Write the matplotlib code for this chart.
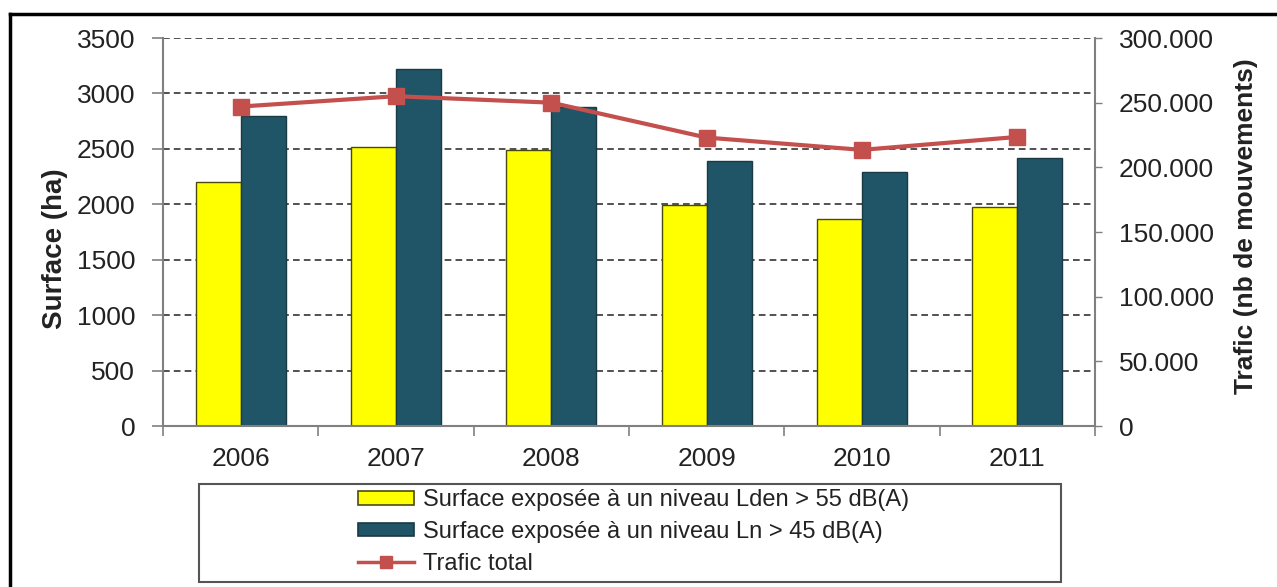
import matplotlib
matplotlib.use("Agg")
import matplotlib.pyplot as plt
import numpy as np
from matplotlib.lines import Line2D
from matplotlib.patches import Rectangle, Patch

plt.rcParams['font.family'] = ['Liberation Sans', 'DejaVu Sans']

years = ['2006', '2007', '2008', '2009', '2010', '2011']
surface_lden = [2200, 2520, 2490, 1990, 1870, 1980]
surface_ln = [2800, 3220, 2880, 2390, 2290, 2420]
trafic_total = [247000, 255000, 250000, 223000, 213500, 223500]

label_lden = "Surface exposée à un niveau Lden > 55 dB(A)"
label_ln = "Surface exposée à un niveau Ln > 45 dB(A)"
label_trafic = "Trafic total"

W, H = 1277, 587
fig = plt.figure(figsize=(W / 100, H / 100), dpi=100)
ax = fig.add_axes([163 / W, 1 - 426 / H, (1095 - 163) / W, (426 - 38) / H])
ax2 = ax.twinx()

x = np.arange(len(years))
bw = 0.29
yellow = "#FFFF00"
teal = "#1F5566"
red = "#C4504D"
gray = "#808080"
text_c = "#222222"

ax.set_axisbelow(True)
ax.bar(x - bw / 2, surface_lden, width=bw, color=yellow, edgecolor="#4a4a10", linewidth=1.0, zorder=2)
ax.bar(x + bw / 2, surface_ln, width=bw, color=teal, edgecolor="#1a3a44", linewidth=1.0, zorder=2)
ax2.plot(x, trafic_total, color=red, lw=3, marker="s", markersize=11, markeredgecolor=red, zorder=3)

ax.set_xlim(-0.5, len(years) - 0.5)
ax.set_ylim(0, 3500)
ax.set_yticks(np.arange(0, 3501, 500))
ax2.set_ylim(0, 300000)
ax2.set_yticks(np.arange(0, 300001, 50000))
ax2.set_yticklabels([f"{v // 1000}.000" if v else "0" for v in range(0, 300001, 50000)])

ax.set_xticks(np.arange(-0.5, len(years), 1.0))
ax.set_xticklabels([])
ax.set_xticks(x, minor=True)
ax.set_xticklabels(years, minor=True)
ax.tick_params(axis="x", which="major", length=7, color=gray, width=1.2, direction="out")
ax.tick_params(axis="x", which="minor", length=0, pad=15, labelsize=19, labelcolor=text_c)
ax.tick_params(axis="y", length=8, color=gray, width=1.2, labelsize=19, pad=12, labelcolor=text_c)
ax2.tick_params(axis="y", length=5, color=gray, width=1.0, labelsize=19, pad=12, labelcolor=text_c)

ax.yaxis.grid(True, linestyle=(0, (4, 2.5)), color="#333333", lw=1.2)

for a in (ax, ax2):
    a.spines["top"].set_visible(False)
    for s in ("left", "right", "bottom"):
        a.spines[s].set_color(gray)
        a.spines[s].set_linewidth(1.5)
ax.spines["right"].set_visible(False)
ax2.spines["left"].set_visible(False)
ax2.spines["bottom"].set_visible(False)

ax.set_ylabel("Surface (ha)", fontsize=20, fontweight="bold", color=text_c)
ax2.set_ylabel("Trafic (nb de mouvements)", fontsize=19, fontweight="bold", color=text_c)
ax.yaxis.set_label_coords((68 - 163) / (1095 - 163), (426 - 249) / 388)
ax2.yaxis.set_label_coords((1234 - 163) / (1095 - 163), (426 - 226) / 388)

# legend box
fig.patches.append(Rectangle((199 / W, 1 - 582 / H), (1061 - 199) / W, (582 - 484) / H,
                             transform=fig.transFigure, fill=False, edgecolor="#555555", lw=1.5))
handles = [Patch(facecolor=yellow, edgecolor="#4a4a10", lw=1.2),
           Patch(facecolor=teal, edgecolor="#1a3a44", lw=1.2),
           Line2D([0], [0], color=red, lw=2.5, marker="s", markersize=9)]
leg = fig.legend(handles, [label_lden, label_ln, label_trafic], loc="center",
                 bbox_to_anchor=(634 / W, 1 - 532 / H), frameon=False, fontsize=17,
                 handlelength=2.37, handleheight=0.5, labelspacing=0.41, handletextpad=0.38,
                 alignment="left", borderpad=0)
for t in leg.get_texts():
    t.set_color(text_c)

# outer frame
fig.add_artist(Line2D([10 / W, 10 / W], [0, 1 - 14 / H], transform=fig.transFigure, color="black", lw=2.5))
fig.add_artist(Line2D([10 / W, 1], [1 - 14 / H, 1 - 14 / H], transform=fig.transFigure, color="black", lw=2.5))

fig.savefig("out.png", dpi=100)
